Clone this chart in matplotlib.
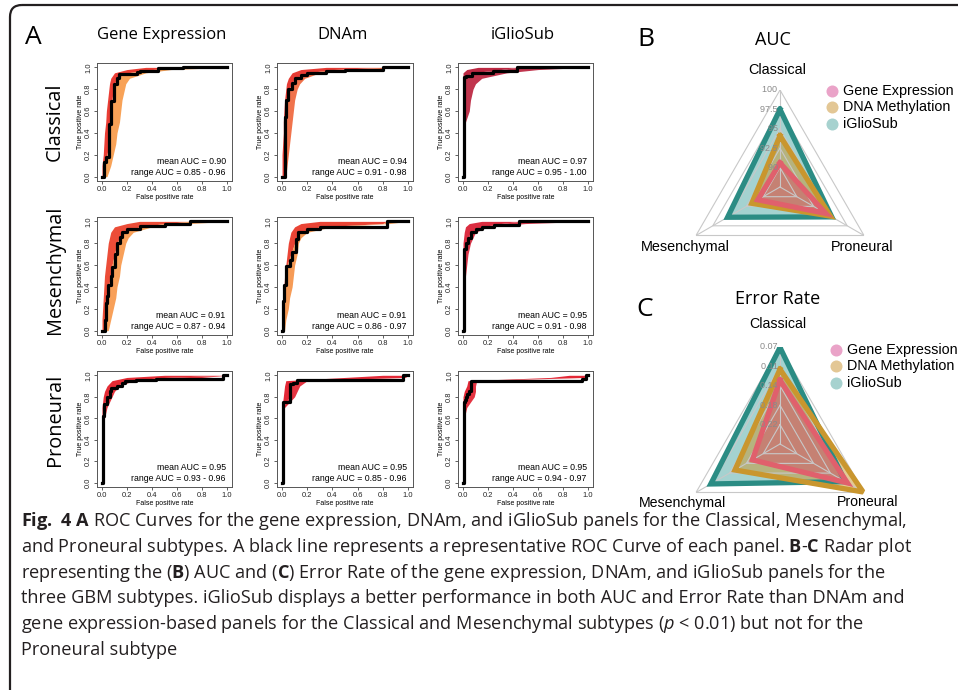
import numpy as np
import matplotlib.pyplot as plt
from matplotlib.patches import FancyBboxPatch

plt.rcParams['mathtext.fontset'] = 'custom'
plt.rcParams['mathtext.rm'] = 'Open Sans'
plt.rcParams['mathtext.bf'] = 'Open Sans:bold'
plt.rcParams['mathtext.it'] = 'Open Sans:italic'

SANS = 'Liberation Sans'
MYR = 'Open Sans'

# ---------------- panel A data ----------------
subtypes = ['Classical', 'Mesenchymal', 'Proneural']
panels = ['Gene Expression', 'DNAm', 'iGlioSub']

mean_auc = [[0.90, 0.94, 0.97], [0.91, 0.91, 0.95], [0.95, 0.95, 0.95]]
range_lo = [[0.85, 0.91, 0.95], [0.87, 0.86, 0.91], [0.93, 0.85, 0.94]]
range_hi = [[0.96, 0.98, 1.00], [0.94, 0.97, 0.98], [0.96, 0.96, 0.97]]

tpr_grid = [0, .1, .2, .3, .4, .5, .6, .7, .8, .85, .9, .95, .98, 1.0]

# band edges (false positive rate at each tpr level): left edge, middle, right edge
ge_cla_left = [0, 0, .01, .015, .02, .03, .035, .045, .055, .06, .07, .1, .2, .35]
ge_cla_mid = [.01, .013, .04, .055, .055, .06, .07, .08, .09, .1, .12, .2, .4, .65]
ge_cla_right = [.04, .07, .09, .11, .12, .14, .15, .16, .18, .19, .22, .35, .55, 1.0]
ge_cla_fpr = [0, .013, .035, .053, .072, .093, .12, .133, .24, .28, .30, .42, .45, .65, 1.0]
ge_cla_tpr = [0, .13, .18, .48, .69, .85, .9, .94, .94, .96, .97, .97, .99, 1.0, 1.0]

dn_cla_left = [0, 0, 0, .005, .01, .01, .015, .02, .03, .035, .05, .08, .15, .35]
dn_cla_mid = [.01, .02, .02, .02, .02, .02, .025, .03, .05, .08, .1, .2, .4, .8]
dn_cla_right = [.03, .04, .05, .06, .07, .08, .09, .1, .12, .14, .18, .3, .6, 1.0]
dn_cla_fpr = [0, .02, .03, .05, .08, .1, .15, .2, .35, .5, .8, 1.0]
dn_cla_tpr = [0, .55, .7, .8, .86, .9, .93, .95, .97, .98, 1.0, 1.0]

ig_cla_left = [0, 0, 0, 0, 0, 0, 0, 0, 0, 0, 0, 0, .03, .12]
ig_cla_mid = [.005, .005, .005, .005, .005, .005, .005, .005, .005, .005, .005, .07, .3, .43]
ig_cla_right = [.01, .01, .015, .015, .02, .02, .05, .06, .08, .1, .15, .35, .6, 1.0]
ig_cla_fpr = [0, .005, .02, .07, .24, .43, 1.0]
ig_cla_tpr = [0, .91, .92, .95, .97, 1.0, 1.0]

ge_mes_left = [0, 0, .005, .01, .015, .02, .03, .04, .05, .06, .07, .1, .2, .3]
ge_mes_mid = [.02, .02, .03, .04, .05, .07, .08, .1, .12, .14, .16, .3, .5, .7]
ge_mes_right = [.05, .07, .09, .11, .12, .14, .15, .17, .19, .21, .25, .4, .7, 1.0]
ge_mes_fpr = [0, .02, .03, .04, .05, .07, .08, .1, .12, .14, .16, .2, .3, .5, .7, 1.0]
ge_mes_tpr = [0, .1, .25, .32, .42, .5, .58, .7, .8, .86, .9, .93, .96, .98, 1.0, 1.0]

dn_mes_left = [0, 0, 0, .01, .015, .02, .03, .04, .05, .06, .07, .1, .15, .3]
dn_mes_mid = [.004, .004, .006, .01, .015, .03, .04, .07, .1, .12, .14, .3, .8, .83]
dn_mes_right = [.02, .03, .05, .06, .08, .09, .1, .12, .13, .15, .2, .4, .85, 1.0]
dn_mes_fpr = [0, .008, .016, .035, .06, .08, .11, .13, .2, .3, .83, 1.0]
dn_mes_tpr = [0, .27, .42, .59, .65, .72, .84, .9, .93, .95, 1.0, 1.0]

ig_mes_left = [0, 0, 0, 0, 0, 0, 0, 0, 0, .005, .01, .02, .05, .15]
ig_mes_mid = [.003, .003, .003, .003, .003, .003, .003, .004, .02, .04, .06, .15, .3, .45]
ig_mes_right = [.01, .01, .01, .015, .02, .02, .03, .04, .06, .08, .1, .2, .5, 1.0]
ig_mes_fpr = [0, .005, .02, .04, .06, .1, .15, .25, .45, 1.0]
ig_mes_tpr = [0, .75, .8, .85, .9, .93, .95, .97, 1.0, 1.0]

ge_pro_left = [0, 0, 0, 0, 0, 0, 0, 0, .01, .02, .04, .08, .2, .5]
ge_pro_mid = [.003, .003, .003, .003, .003, .003, .003, .01, .04, .06, .12, .18, .5, .97]
ge_pro_right = [.005, .008, .01, .01, .012, .015, .02, .04, .08, .1, .14, .25, .8, 1.0]
ge_pro_fpr = [0, .005, .013, .04, .06, .07, .12, .16, .18, .27, .43, .97, 1.0]
ge_pro_tpr = [0, .62, .73, .8, .85, .88, .9, .93, .95, .96, .97, 1.0, 1.0]

dn_pro_left = [0, 0, 0, 0, 0, 0, 0, 0, .01, .015, .02, .03, .5, .8]
dn_pro_mid = [.003, .003, .003, .003, .003, .003, .003, .003, .06, .06, .06, .12, .96, .97]
dn_pro_right = [.005, .005, .008, .008, .01, .01, .012, .02, .1, .12, .14, .2, .98, 1.0]
dn_pro_fpr = [0, .005, .06, .09, .12, .96, 1.0]
dn_pro_tpr = [0, .75, .92, .93, .96, 1.0, 1.0]

ig_pro_left = [0, 0, 0, 0, 0, 0, 0, 0, 0, .01, .03, .04, .7, .85]
ig_pro_mid = [.003, .003, .003, .003, .003, .003, .003, .003, .015, .05, .06, .06, .97, .98]
ig_pro_right = [.005, .005, .005, .008, .008, .01, .01, .03, .09, .1, .1, .11, .98, 1.0]
ig_pro_fpr = [0, .005, .013, .02, .035, .05, .06, .955, .98, 1.0]
ig_pro_tpr = [0, .75, .77, .8, .83, .85, .95, .97, 1.0, 1.0]

roc = [
    [(ge_cla_left, ge_cla_mid, ge_cla_right, ge_cla_fpr, ge_cla_tpr),
     (dn_cla_left, dn_cla_mid, dn_cla_right, dn_cla_fpr, dn_cla_tpr),
     (ig_cla_left, ig_cla_mid, ig_cla_right, ig_cla_fpr, ig_cla_tpr)],
    [(ge_mes_left, ge_mes_mid, ge_mes_right, ge_mes_fpr, ge_mes_tpr),
     (dn_mes_left, dn_mes_mid, dn_mes_right, dn_mes_fpr, dn_mes_tpr),
     (ig_mes_left, ig_mes_mid, ig_mes_right, ig_mes_fpr, ig_mes_tpr)],
    [(ge_pro_left, ge_pro_mid, ge_pro_right, ge_pro_fpr, ge_pro_tpr),
     (dn_pro_left, dn_pro_mid, dn_pro_right, dn_pro_fpr, dn_pro_tpr),
     (ig_pro_left, ig_pro_mid, ig_pro_right, ig_pro_fpr, ig_pro_tpr)],
]
band_colors = [
    [('#e8281e', '#f7923a'), ('#e3261e', '#ee5a2c'), ('#b5112e', '#b5112e')],
    [('#ea3a22', '#f7903c'), ('#e8301f', '#f58a38'), ('#d8162c', '#d8162c')],
    [('#e2141e', '#e2141e'), ('#e01020', '#e01020'), ('#e01020', '#e01020')],
]

# ---------------- panel B / C data ----------------
radar_axes = ['Classical', 'Mesenchymal', 'Proneural']
radar_series = ['Gene Expression', 'DNA Methylation', 'iGlioSub']
auc_gene = [90.6, 90.8, 94.3]
auc_dnam = [94.1, 91.7, 95.0]
auc_iglio = [97.5, 95.3, 95.2]
auc_ticks = [90, 92.5, 95, 97.5, 100]
auc_ticklabels = ['90', '92.5', '95', '97.5', '100']

err_gene = [0.134, 0.196, 0.107]
err_dnam = [0.113, 0.157, 0.072]
err_iglio = [0.071, 0.103, 0.112]
err_ticks = [0.22, 0.1825, 0.145, 0.1075, 0.07]
err_ticklabels = ['0.22', '0.18', '0.14', '0.11', '0.07']

line_cols = ['#e0606c', '#c9962e', '#2b8c84']
fill_cols = ['#d4506a', '#c9962e', '#4aa7a2']
legend_cols = ['#eaa3c8', '#e3c795', '#a7d2cf']

caption = [
    r'$\mathbf{Fig.\ 4\ A}$ ROC Curves for the gene expression, DNAm, and iGlioSub panels for the Classical, Mesenchymal,',
    r'and Proneural subtypes. A black line represents a representative ROC Curve of each panel. $\mathbf{B}$-$\mathbf{C}$ Radar plot',
    r'representing the ($\mathbf{B}$) AUC and ($\mathbf{C}$) Error Rate of the gene expression, DNAm, and iGlioSub panels for the',
    r'three GBM subtypes. iGlioSub displays a better performance in both AUC and Error Rate than DNAm and',
    r'gene expression-based panels for the Classical and Mesenchymal subtypes ($\mathit{p}$ < 0.01) but not for the',
    r'Proneural subtype',
]

W, H = 958, 690
fig = plt.figure(figsize=(W / 100, H / 100), dpi=100)


def px_axes(l, t, r, b, **kw):
    return fig.add_axes([l / W, 1 - b / H, (r - l) / W, (b - t) / H], **kw)


col_px = [(97, 232), (277, 413), (458, 593)]
row_px = [(63, 181), (217, 335), (371, 487)]

for i in range(3):
    for j in range(3):
        left, mid, right, fpr, tpr = roc[i][j]
        c1, c2 = band_colors[i][j]
        ax = px_axes(col_px[j][0], row_px[i][0], col_px[j][1], row_px[i][1])
        ax.fill_betweenx(tpr_grid, left, mid, color=c1, lw=0, alpha=0.9)
        ax.fill_betweenx(tpr_grid, mid, right, color=c2, lw=0, alpha=0.85)
        ax.plot(fpr, tpr, color='black', lw=2.3, drawstyle='steps-post')
        ax.set_xlim(-0.04, 1.04)
        ax.set_ylim(-0.04, 1.04)
        ticks = [0, .2, .4, .6, .8, 1.0]
        ax.set_xticks(ticks)
        ax.set_xticklabels(['%.1f' % t for t in ticks], fontsize=5.4, family=SANS, color='#222')
        ax.set_yticks(ticks)
        ax.set_yticklabels(['%.1f' % t for t in ticks], fontsize=5.4, family=SANS, color='#222',
                           rotation=90, va='center')
        ax.tick_params(length=2.5, width=0.6, pad=1.0, color='#444')
        for s in ax.spines.values():
            s.set_linewidth(0.7)
            s.set_color('#555')
        ax.set_xlabel('False positive rate', fontsize=5, family=SANS, labelpad=0.8)
        ax.set_ylabel('True positive rate', fontsize=5, family=SANS, labelpad=1)
        ax.text(0.99, 0.14, 'mean AUC = %.2f' % mean_auc[i][j], ha='right', va='center',
                fontsize=6.3, family=SANS)
        ax.text(0.99, 0.035, 'range AUC = %.2f - %.2f' % (range_lo[i][j], range_hi[i][j]),
                ha='right', va='center', fontsize=6.3, family=SANS)

theta = np.deg2rad([90, 210, 330])
closed = np.append(theta, theta[0])


def radar(center, vmin, vmax, ticks, ticklabels, series):
    cx, cy = center
    R = 97
    ax = px_axes(cx - R, cy - R, cx + R, cy + R, projection='polar')
    ax.set_ylim(vmin, vmax)
    ax.set_xticks([])
    ax.set_yticks([])
    ax.grid(False)
    ax.spines['polar'].set_visible(False)
    ax.patch.set_alpha(0)
    for t in ticks:
        ax.plot(closed, [t] * 4, color='#c8c8c8', lw=0.8)
    for th in theta:
        ax.plot([th, th], [vmin, vmax], color='#c8c8c8', lw=0.8)
    for k in [2, 1, 0]:
        v = np.append(series[k], series[k][0])
        ax.fill(closed, v, color=fill_cols[k], alpha=0.5, lw=0)
    for k in [2, 1, 0]:
        v = np.append(series[k], series[k][0])
        ax.plot(closed, v, color=line_cols[k], lw=3.8, solid_joinstyle='miter')
    for t, lab in zip(ticks, ticklabels):
        ax.text(np.pi / 2, t, lab + ' ', ha='right', va='center', fontsize=6.5,
                color='#8a8a8a', family=SANS)
    return ax


radar((780, 187), 87.5, 100, auc_ticks, auc_ticklabels, [auc_gene, auc_dnam, auc_iglio])
radar((780, 444), 0.2575, 0.07, err_ticks, err_ticklabels, [err_gene, err_dnam, err_iglio])

# overlay for labels, legends, border, caption
ov = fig.add_axes([0, 0, 1, 1])
ov.set_xlim(0, W)
ov.set_ylim(H, 0)
ov.axis('off')

ov.add_patch(FancyBboxPatch((10, 5), 1000, 720, boxstyle='round,pad=0,rounding_size=12',
                            fill=False, ec='#231f20', lw=1.6, clip_on=False))

ov.text(33, 38, 'A', fontsize=19, family=MYR, ha='center', va='center')
for x, name in zip([162, 343, 523], panels):
    ov.text(x, 35, name, fontsize=12, family=MYR, ha='center', va='center')
for y, name in zip([122, 270, 420], subtypes):
    ov.text(55, y, name, fontsize=14.3, family=MYR, ha='center', va='center', rotation=90)

ov.text(646, 40, 'B', fontsize=19, family=MYR, ha='center', va='center')
ov.text(773, 40, 'AUC', fontsize=13, family=MYR, ha='center', va='center')
ov.text(645, 310, 'C', fontsize=19, family=MYR, ha='center', va='center')
ov.text(778, 299, 'Error Rate', fontsize=13, family=MYR, ha='center', va='center')

for (x, y), name in zip([(777, 70), (685, 247), (862, 247)], radar_axes):
    ov.text(x, y, name, fontsize=10.4, family=SANS, ha='center', va='center')
for (x, y), name in zip([(778, 324), (683, 503), (868, 502)], radar_axes):
    ov.text(x, y, name, fontsize=10.2, family=SANS, ha='center', va='center')

for x0, ys in [(832, [91, 107, 124]), (836, [350, 366, 383])]:
    for y, name, c in zip(ys, radar_series, legend_cols):
        ov.scatter([x0], [y], s=75, color=c, lw=0)
        ov.text(x0 + 11, y, name, fontsize=10.4, family=SANS, ha='left', va='center')

for k, line in enumerate(caption):
    ov.text(21, 521 + k * 25.8, line, fontsize=13.1, family=MYR, color='#231f20',
            ha='left', va='center')

fig.savefig('out.png', dpi=100)
